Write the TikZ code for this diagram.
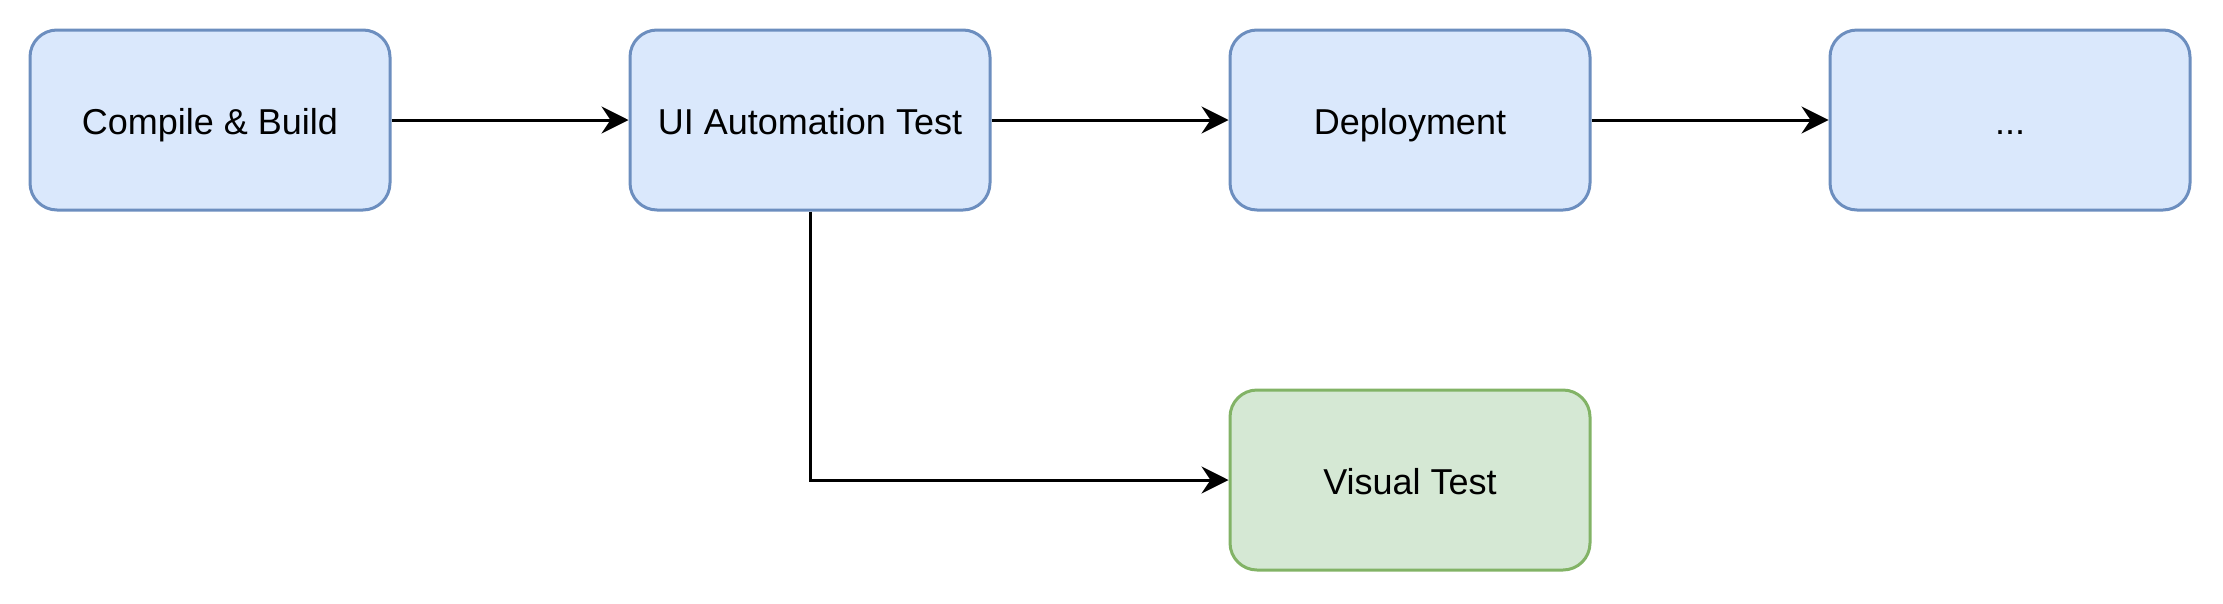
\documentclass[tikz,border=0pt]{standalone}
\usepackage{fontspec}
\setmainfont{Liberation Sans}
\usetikzlibrary{arrows.meta}
\definecolor{bluefill}{HTML}{DAE8FC}
\definecolor{bluedraw}{HTML}{6C8EBF}
\definecolor{greenfill}{HTML}{D5E8D4}
\definecolor{greendraw}{HTML}{82B366}
\begin{document}
\begin{tikzpicture}[x=1pt,y=1pt,
  stage/.style={draw=bluedraw, fill=bluefill, line width=1pt, rounded corners=9pt,
    minimum width=120pt, minimum height=60pt, inner sep=0pt,
    text height=12.4pt, text depth=2.6pt, font=\fontsize{12}{14}\selectfont},
  greenstage/.style={stage, draw=greendraw, fill=greenfill},
  conn/.style={draw=black, line width=1pt, -{Stealth[length=9pt,width=9pt,inset=3pt]}}]
\useasboundingbox (0,0) rectangle (741,-201);
\node[stage] (a) at (70,-40) {Compile \& Build};
\node[stage] (b) at (270,-40) {UI Automation Test};
\node[stage] (c) at (470,-40) {Deployment};
\node[stage] (d) at (670,-40) {...};
\node[greenstage] (v) at (470,-160) {Visual Test};
\draw[conn] (a) -- (b);
\draw[conn] (b) -- (c);
\draw[conn] (c) -- (d);
\draw[conn] (b.south) |- (v.west);
\end{tikzpicture}
\end{document}
